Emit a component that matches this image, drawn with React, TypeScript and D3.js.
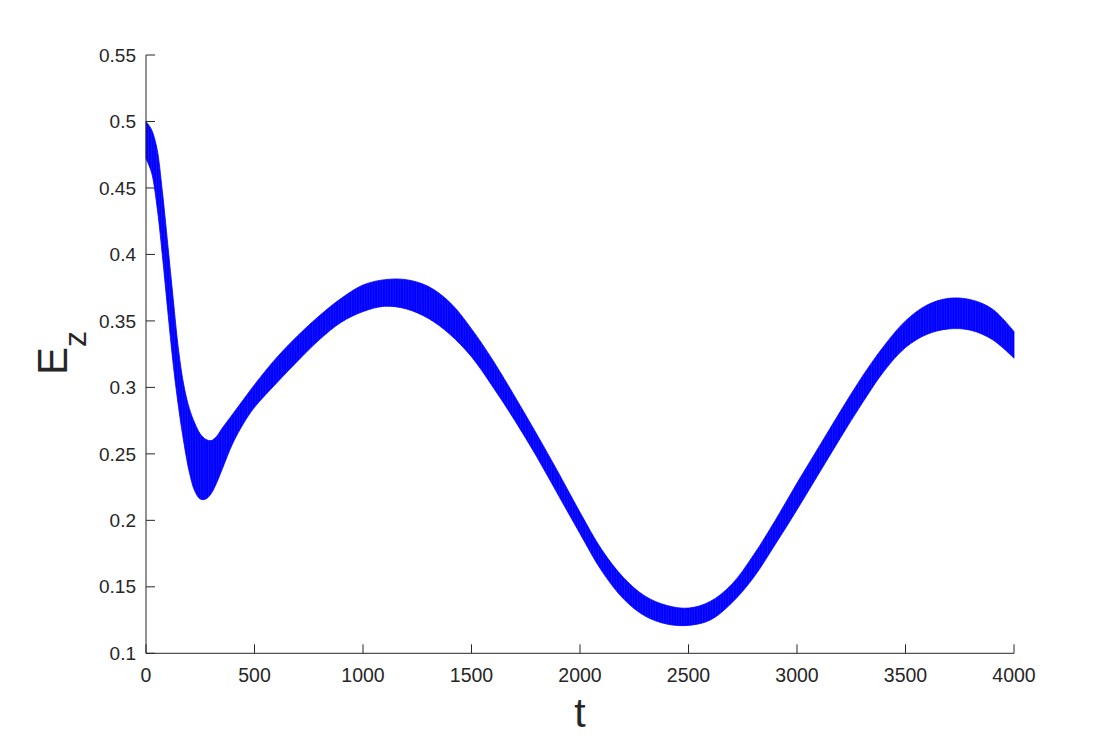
import React from "react";
import * as d3 from "d3";

// Time samples
const tValues = [0, 25, 50, 75, 100, 125, 150, 175, 200, 225, 250, 275, 300, 325, 350, 400, 450, 500, 600, 700, 800, 900, 1000, 1100, 1200, 1300, 1400, 1500, 1600, 1700, 1800, 1900, 2000, 2100, 2200, 2300, 2400, 2500, 2600, 2700, 2800, 2900, 3000, 3100, 3200, 3300, 3400, 3500, 3600, 3700, 3800, 3900, 4000];

// Upper envelope of the fast-oscillating E_z signal
const upperV = [0.500, 0.494, 0.480, 0.448, 0.408, 0.367, 0.328, 0.301, 0.284, 0.273, 0.265, 0.261, 0.260, 0.263, 0.269, 0.280, 0.291, 0.302, 0.322, 0.339, 0.354, 0.367, 0.377, 0.381, 0.381, 0.376, 0.364, 0.344, 0.320, 0.293, 0.265, 0.236, 0.206, 0.178, 0.157, 0.143, 0.136, 0.134, 0.139, 0.152, 0.174, 0.200, 0.228, 0.255, 0.282, 0.308, 0.331, 0.350, 0.362, 0.367, 0.366, 0.359, 0.342];

// Lower envelope
const lowerV = [0.472, 0.462, 0.437, 0.400, 0.358, 0.318, 0.285, 0.258, 0.236, 0.222, 0.216, 0.216, 0.220, 0.228, 0.238, 0.258, 0.273, 0.285, 0.303, 0.320, 0.336, 0.349, 0.357, 0.361, 0.359, 0.352, 0.340, 0.323, 0.300, 0.275, 0.248, 0.219, 0.190, 0.162, 0.141, 0.128, 0.122, 0.121, 0.125, 0.138, 0.157, 0.182, 0.208, 0.235, 0.262, 0.288, 0.312, 0.330, 0.340, 0.344, 0.343, 0.336, 0.322];

const xTicks = [0, 500, 1000, 1500, 2000, 2500, 3000, 3500, 4000];
const yTicks = [0.1, 0.15, 0.2, 0.25, 0.3, 0.35, 0.4, 0.45, 0.5, 0.55];

const W = 1120;
const H = 736;
const left = 146;
const right = 1014;
const top = 55;
const bottom = 653.3;
const axisColor = "#262626";
const font = "'Liberation Sans', Arial, Helvetica, sans-serif";

export default function App() {
  const x = d3.scaleLinear().domain([0, 4000]).range([left, right]);
  const y = d3.scaleLinear().domain([0.1, 0.55]).range([bottom, top]);

  const area = d3
    .area<number>()
    .x((_, i) => x(tValues[i]))
    .y0((_, i) => y(lowerV[i]))
    .y1((_, i) => y(upperV[i]))
    .curve(d3.curveCatmullRom.alpha(0.5));
  const band = area(tValues.map((_, i) => i)) || "";

  const tickLen = 9;

  return (
    <svg
      width={W}
      height={H}
      style={{ position: "absolute", left: 0, top: 0, background: "#fff" }}
      fontFamily={font}
    >
      <defs>
        <pattern id="streaks" width={2.6} height={10} patternUnits="userSpaceOnUse">
          <rect width={2.6} height={10} fill="#0000ff" />
          <rect x={0} width={0.6} height={10} fill="#4a4aff" opacity={0.45} />
        </pattern>
      </defs>
      <rect x={0} y={0} width={W} height={H} fill="#fff" />
      <path d={band} fill="url(#streaks)" stroke="#0000ff" strokeWidth={0.8} strokeLinejoin="round" />

      {/* axes */}
      <line x1={left} y1={bottom} x2={right} y2={bottom} stroke={axisColor} strokeWidth={1} />
      <line x1={left} y1={bottom} x2={left} y2={top} stroke={axisColor} strokeWidth={1} />

      {xTicks.map((t) => (
        <g key={"x" + t}>
          <line x1={x(t)} x2={x(t)} y1={bottom} y2={bottom - tickLen} stroke={axisColor} strokeWidth={1} />
          <text x={x(t)} y={682} textAnchor="middle" fontSize={19.5} fill={axisColor}>
            {t}
          </text>
        </g>
      ))}
      {yTicks.map((v) => (
        <g key={"y" + v}>
          <line x1={left} x2={left + tickLen} y1={y(v)} y2={y(v)} stroke={axisColor} strokeWidth={1} />
          <text x={136} y={y(v)} dy="0.35em" textAnchor="end" fontSize={19} fill={axisColor}>
            {String(v)}
          </text>
        </g>
      ))}

      <text x={(left + right) / 2} y={727} textAnchor="middle" fontSize={41} fill={axisColor}>
        t
      </text>
      <text transform={`translate(67,353) rotate(-90)`} textAnchor="middle" fontSize={42} fill={axisColor}>
        E
        <tspan fontSize={32} dy={19}>
          z
        </tspan>
      </text>
    </svg>
  );
}
